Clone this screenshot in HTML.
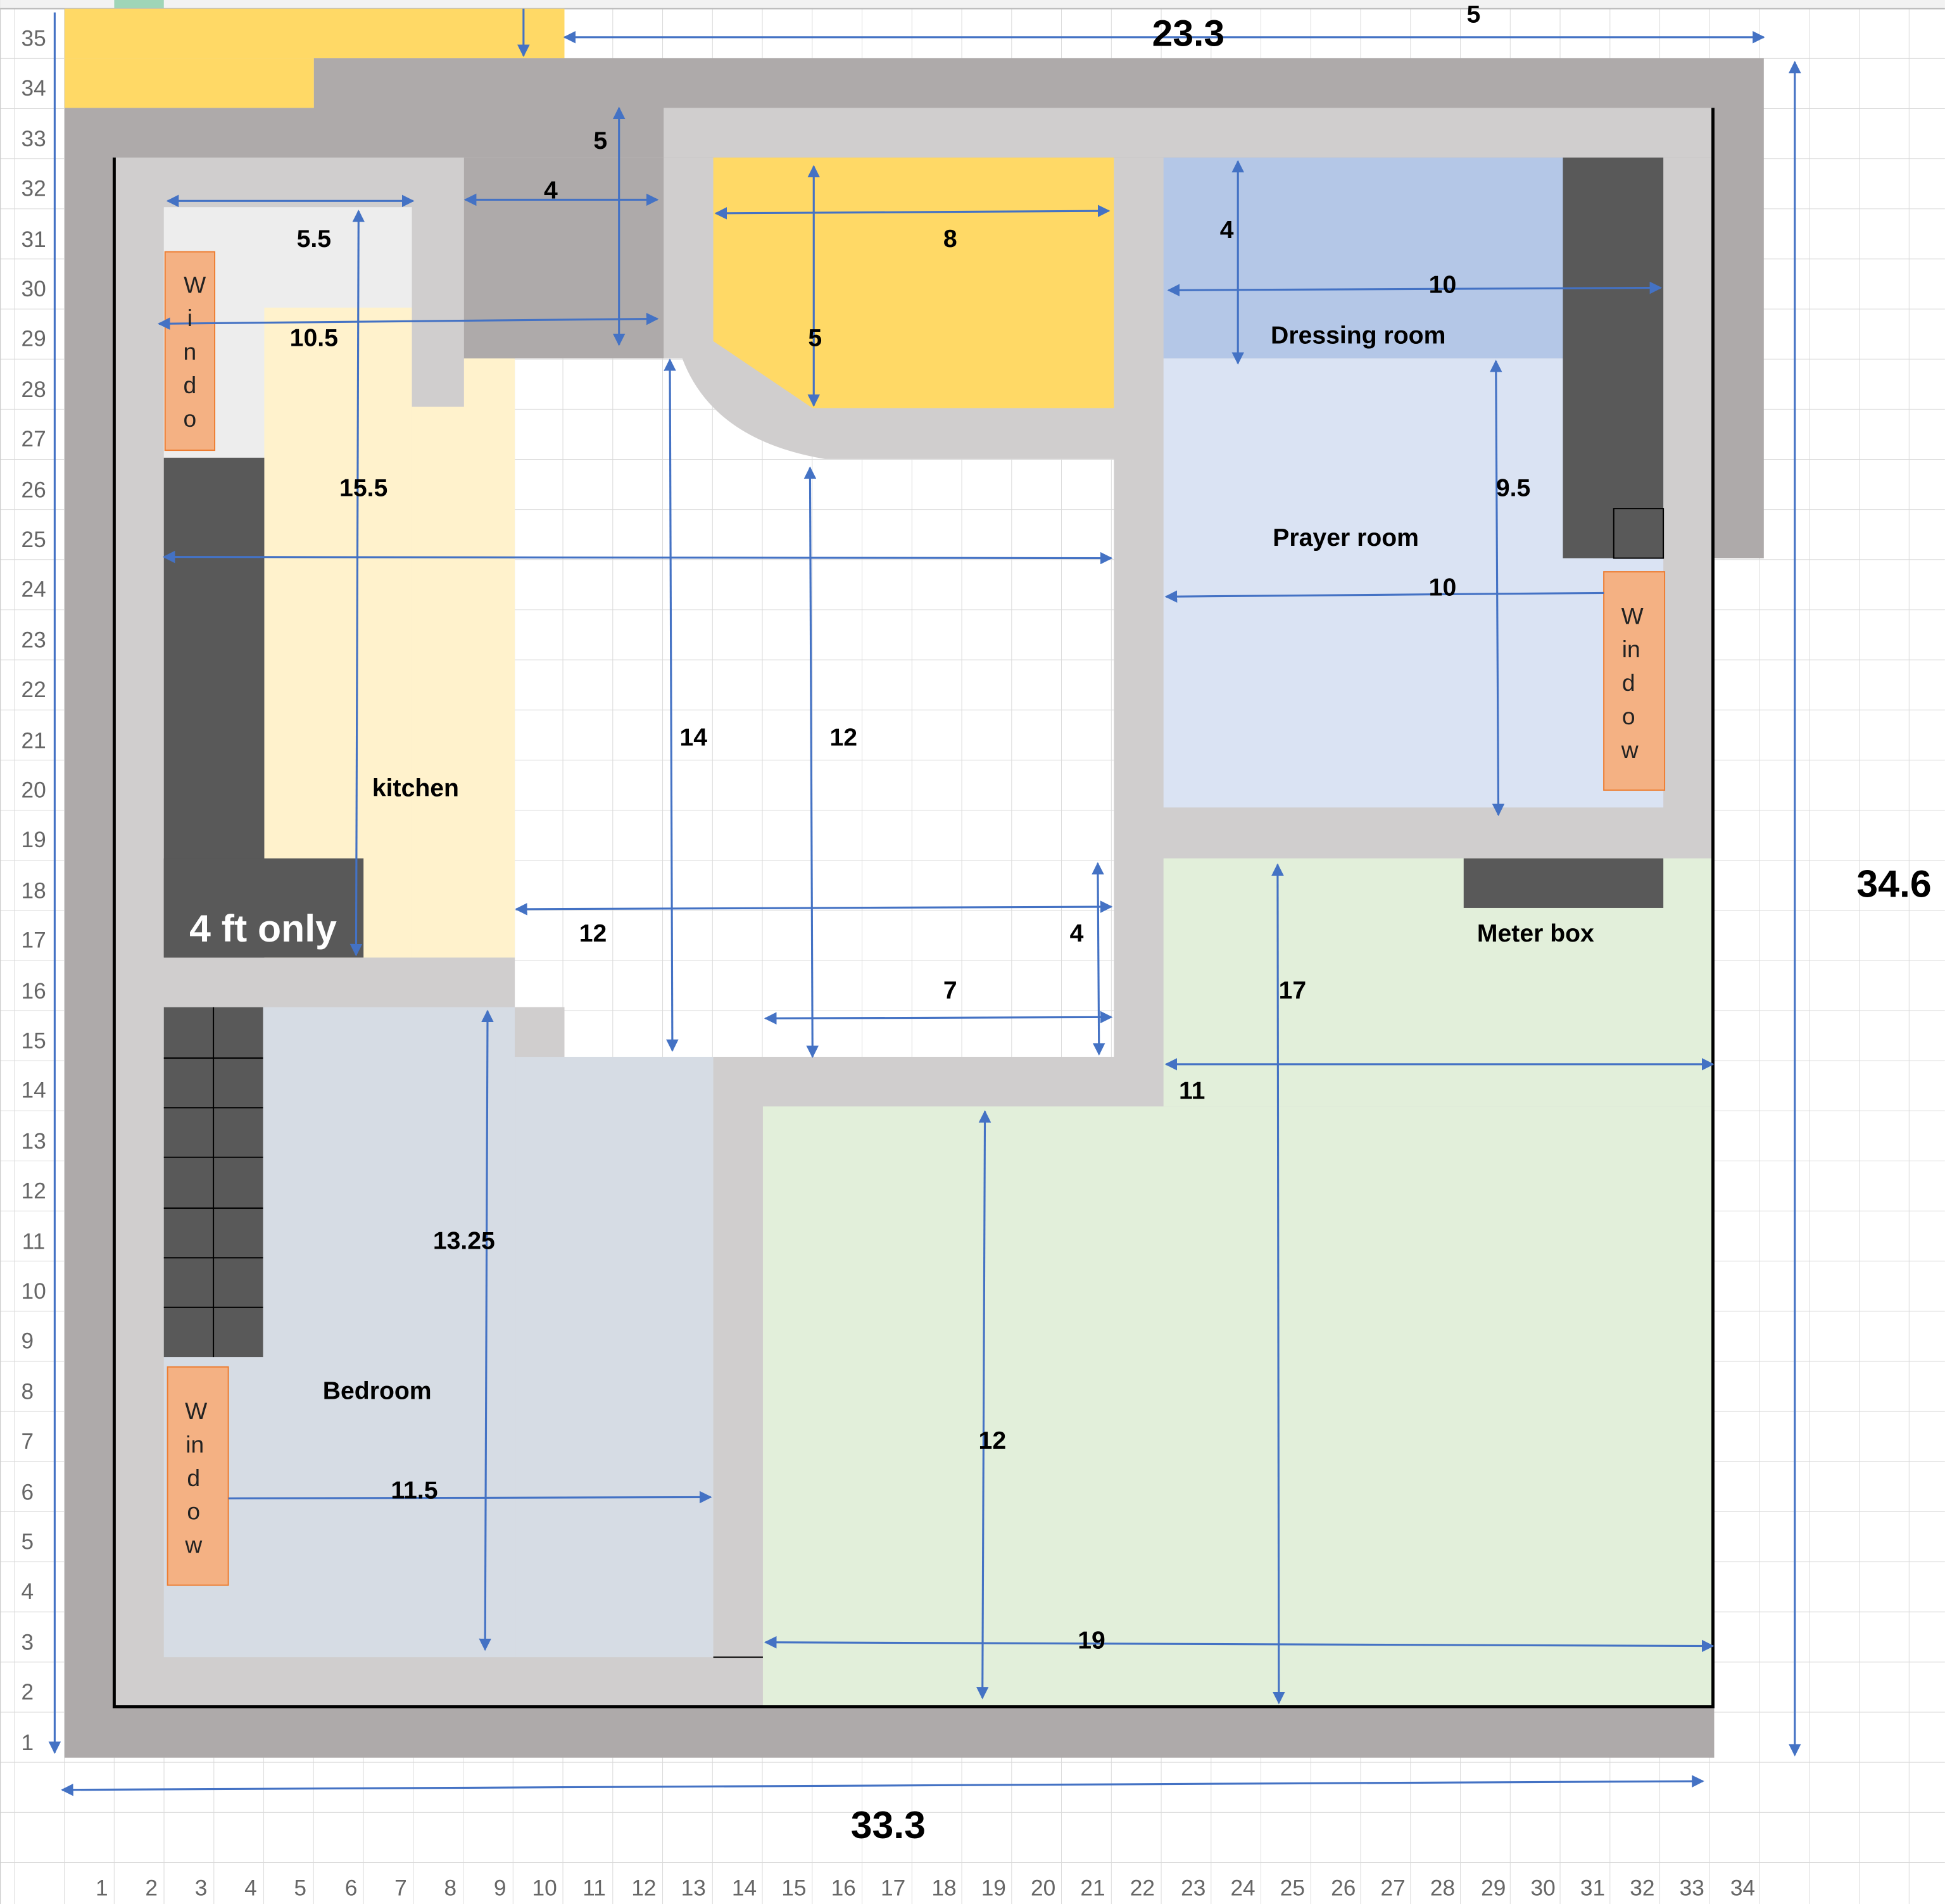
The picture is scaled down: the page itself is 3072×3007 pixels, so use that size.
<!DOCTYPE html>
<html><head><meta charset="utf-8"><style>
html,body{margin:0;padding:0;background:#fff}
svg{display:block}
text{font-family:"Liberation Sans",sans-serif}
.b{font-weight:bold;font-size:20px;fill:#000;text-anchor:middle}
.n{font-size:18px;fill:#666;text-anchor:middle}
.w{font-size:19px;fill:#222;text-anchor:middle}
.a{stroke:#4472c4;stroke-width:1.6;fill:none}
</style></head><body>
<svg width="3072" height="3007" viewBox="0 0 1568 1535" xmlns="http://www.w3.org/2000/svg">
<defs>
<pattern id="g" x="52" y="7" width="40.2" height="40.4" patternUnits="userSpaceOnUse">
<path d="M40.2 0V40.4M0 40.4H40.2" stroke="#dadada" stroke-width="1" fill="none"/>
</pattern>
<marker id="m" viewBox="0 0 10 10" refX="9" refY="5" markerWidth="10" markerHeight="10" orient="auto-start-reverse" markerUnits="userSpaceOnUse">
<path d="M0 0L10 5L0 10Z" fill="#4472c4"/></marker>
</defs>
<rect width="1568" height="1535" fill="#fff"/>
<rect width="1568" height="1535" fill="url(#g)"/>
<line x1="0" y1="1535" x2="0" y2="0" stroke="#ccc"/>
<rect x="0" y="0" width="1568" height="7" fill="#f2f2f2"/>
<rect x="92" y="0" width="40" height="7" fill="#9fd5b7"/>
<line x1="0" y1="7" x2="1568" y2="7" stroke="#bbb"/>
<rect x="52" y="7" width="403" height="40" fill="#ffd966"/>
<rect x="52" y="47" width="201" height="40" fill="#ffd966"/>
<rect x="253" y="47" width="1169" height="403" fill="#aeaaaa"/>
<rect x="52" y="87" width="1330" height="1330" fill="#aeaaaa"/>
<rect x="92" y="127" width="1289" height="1249" fill="#d0cece"/>
<rect x="535" y="87" width="846" height="40" fill="#d0cece"/>
<rect x="374" y="127" width="161" height="162" fill="#aeaaaa"/>
<rect x="132" y="167" width="200" height="202" fill="#ededed"/>
<rect x="213" y="248" width="119" height="524" fill="#fff2cc"/>
<rect x="332" y="328" width="83" height="444" fill="#fff2cc"/>
<rect x="374" y="289" width="41" height="40" fill="#fff2cc"/>
<rect x="132" y="369" width="81" height="403" fill="#595959"/>
<rect x="132" y="692" width="161" height="80" fill="#595959"/>
<path d="M415 289L550 289Q575 355 665 370L898 370L898 852L455 852L455 812L415 812Z" fill="#fff"/>
<path d="M415 289L550 289Q575 355 665 370L898 370L898 852L455 852L455 812L415 812Z" fill="url(#g)"/>
<path d="M575 127L898 127L898 329L655 329L575 275Z" fill="#ffd966"/>
<rect x="938" y="127" width="322" height="162" fill="#b4c7e7"/>
<rect x="938" y="289" width="403" height="362" fill="#dae3f3"/>
<rect x="1260" y="127" width="81" height="323" fill="#595959"/>
<rect x="1301" y="410" width="40" height="40" fill="none" stroke="#000" stroke-width="1"/>
<rect x="1293" y="461" width="49" height="176" fill="#f4b183" stroke="#ed7d31" stroke-width="1"/>
<rect x="938" y="692" width="443" height="200" fill="#e2efda"/>
<rect x="615" y="892" width="766" height="484" fill="#e2efda"/>
<rect x="1180" y="692" width="161" height="40" fill="#595959"/>
<rect x="132" y="812" width="283" height="524" fill="#d6dce4"/>
<rect x="415" y="852" width="160" height="484" fill="#d6dce4"/>
<rect x="415" y="812" width="40" height="40" fill="#d0cece"/>
<rect x="132" y="812" width="80" height="282" fill="#595959"/>
<g stroke="#000" stroke-width="1">
<line x1="172" y1="812" x2="172" y2="1094"/>
<line x1="132" y1="853" x2="212" y2="853"/><line x1="132" y1="893" x2="212" y2="893"/>
<line x1="132" y1="933" x2="212" y2="933"/><line x1="132" y1="974" x2="212" y2="974"/>
<line x1="132" y1="1014" x2="212" y2="1014"/><line x1="132" y1="1054" x2="212" y2="1054"/>
<line x1="575" y1="1336" x2="615" y2="1336"/>
</g>
<rect x="133" y="203" width="40" height="160" fill="#f4b183" stroke="#ed7d31"/>
<rect x="135" y="1102" width="49" height="176" fill="#f4b183" stroke="#ed7d31"/>
<path d="M92 127V1376H1381V87" fill="none" stroke="#000" stroke-width="2.5"/>
<g class="a" marker-end="url(#m)">
<line x1="422" y1="7" x2="422" y2="45"/>
<line x1="44" y1="10" x2="44" y2="1413"/>
<line x1="1447" y1="1415" x2="1447" y2="50" marker-start="url(#m)"/>
<line x1="455" y1="30" x2="1422" y2="30" marker-start="url(#m)"/>
<line x1="50" y1="1443" x2="1373" y2="1436" marker-start="url(#m)"/>
<line x1="135" y1="162" x2="333" y2="162" marker-start="url(#m)"/>
<line x1="375" y1="161" x2="530" y2="161" marker-start="url(#m)"/>
<line x1="499" y1="87" x2="499" y2="278" marker-start="url(#m)"/>
<line x1="128" y1="261" x2="530" y2="257" marker-start="url(#m)"/>
<line x1="289" y1="170" x2="287" y2="770" marker-start="url(#m)"/>
<line x1="132" y1="449" x2="896" y2="450" marker-start="url(#m)"/>
<line x1="540" y1="290" x2="542" y2="847" marker-start="url(#m)"/>
<line x1="653" y1="377" x2="655" y2="852" marker-start="url(#m)"/>
<line x1="577" y1="172" x2="894" y2="170" marker-start="url(#m)"/>
<line x1="656" y1="134" x2="656" y2="327" marker-start="url(#m)"/>
<line x1="998" y1="130" x2="998" y2="293" marker-start="url(#m)"/>
<line x1="942" y1="234" x2="1339" y2="232" marker-start="url(#m)"/>
<line x1="1206" y1="291" x2="1208" y2="657" marker-start="url(#m)"/>
<line x1="1293" y1="478" x2="940" y2="481"/>
<line x1="416" y1="733" x2="896" y2="731" marker-start="url(#m)"/>
<line x1="885" y1="696" x2="886" y2="850" marker-start="url(#m)"/>
<line x1="617" y1="821" x2="896" y2="820" marker-start="url(#m)"/>
<line x1="1030" y1="697" x2="1031" y2="1373" marker-start="url(#m)"/>
<line x1="940" y1="858" x2="1381" y2="858" marker-start="url(#m)"/>
<line x1="794" y1="896" x2="792" y2="1369" marker-start="url(#m)"/>
<line x1="617" y1="1324" x2="1381" y2="1327" marker-start="url(#m)"/>
<line x1="393" y1="815" x2="391" y2="1330" marker-start="url(#m)"/>
<line x1="184" y1="1208" x2="573" y2="1207"/>
</g>
<g class="b">
<text x="958" y="37" font-size="30">23.3</text>
<text x="1188" y="18" font-size="20">5</text>
<text x="1527" y="723" font-size="31">34.6</text>
<text x="716" y="1482" font-size="31">33.3</text>
<text x="253" y="199">5.5</text>
<text x="444" y="160">4</text>
<text x="484" y="120">5</text>
<text x="253" y="279">10.5</text>
<text x="293" y="400">15.5</text>
<text x="559" y="601">14</text>
<text x="680" y="601">12</text>
<text x="766" y="199">8</text>
<text x="657" y="279">5</text>
<text x="989" y="192">4</text>
<text x="1163" y="236">10</text>
<text x="1220" y="400">9.5</text>
<text x="1163" y="480">10</text>
<text x="478" y="759">12</text>
<text x="868" y="759">4</text>
<text x="766" y="805">7</text>
<text x="1042" y="805">17</text>
<text x="961" y="886">11</text>
<text x="800" y="1168">12</text>
<text x="880" y="1329">19</text>
<text x="374" y="1007">13.25</text>
<text x="334" y="1208">11.5</text>
<text x="335" y="642">kitchen</text>
<text x="1095" y="277">Dressing room</text>
<text x="1085" y="440">Prayer room</text>
<text x="1238" y="759">Meter box</text>
<text x="304" y="1128">Bedroom</text>
<text x="212" y="759" font-size="31" style="fill:#fff">4 ft only</text>
</g>
<g class="w">
<text x="157" y="236">W</text><text x="153" y="263">i</text><text x="153" y="290">n</text><text x="153" y="317">d</text><text x="153" y="344">o</text>
<text x="158" y="1144">W</text><text x="157" y="1171">in</text><text x="156" y="1198">d</text><text x="156" y="1225">o</text><text x="156" y="1252">w</text>
<text x="1316" y="503">W</text><text x="1315" y="530">in</text><text x="1313" y="557">d</text><text x="1313" y="584">o</text><text x="1314" y="611">w</text>
</g>
<g class="n">
<text x="27" y="37">35</text><text x="27" y="77">34</text><text x="27" y="118">33</text><text x="27" y="158">32</text><text x="27" y="199">31</text><text x="27" y="239">30</text><text x="27" y="279">29</text><text x="27" y="320">28</text><text x="27" y="360">27</text><text x="27" y="401">26</text><text x="27" y="441">25</text><text x="27" y="481">24</text><text x="27" y="522">23</text><text x="27" y="562">22</text><text x="27" y="603">21</text><text x="27" y="643">20</text><text x="27" y="683">19</text><text x="27" y="724">18</text><text x="27" y="764">17</text><text x="27" y="805">16</text><text x="27" y="845">15</text><text x="27" y="885">14</text><text x="27" y="926">13</text><text x="27" y="966">12</text><text x="27" y="1007">11</text><text x="27" y="1047">10</text><text x="22" y="1087">9</text><text x="22" y="1128">8</text><text x="22" y="1168">7</text><text x="22" y="1209">6</text><text x="22" y="1249">5</text><text x="22" y="1289">4</text><text x="22" y="1330">3</text><text x="22" y="1370">2</text><text x="22" y="1411">1</text>
</g>
<g class="n">
<text x="82" y="1528">1</text><text x="122" y="1528">2</text><text x="162" y="1528">3</text><text x="202" y="1528">4</text><text x="242" y="1528">5</text><text x="283" y="1528">6</text><text x="323" y="1528">7</text><text x="363" y="1528">8</text><text x="403" y="1528">9</text><text x="439" y="1528">10</text><text x="479" y="1528">11</text><text x="519" y="1528">12</text><text x="559" y="1528">13</text><text x="600" y="1528">14</text><text x="640" y="1528">15</text><text x="680" y="1528">16</text><text x="720" y="1528">17</text><text x="761" y="1528">18</text><text x="801" y="1528">19</text><text x="841" y="1528">20</text><text x="881" y="1528">21</text><text x="921" y="1528">22</text><text x="962" y="1528">23</text><text x="1002" y="1528">24</text><text x="1042" y="1528">25</text><text x="1083" y="1528">26</text><text x="1123" y="1528">27</text><text x="1163" y="1528">28</text><text x="1204" y="1528">29</text><text x="1244" y="1528">30</text><text x="1284" y="1528">31</text><text x="1324" y="1528">32</text><text x="1364" y="1528">33</text><text x="1405" y="1528">34</text>
</g>
</svg>
</body></html>
